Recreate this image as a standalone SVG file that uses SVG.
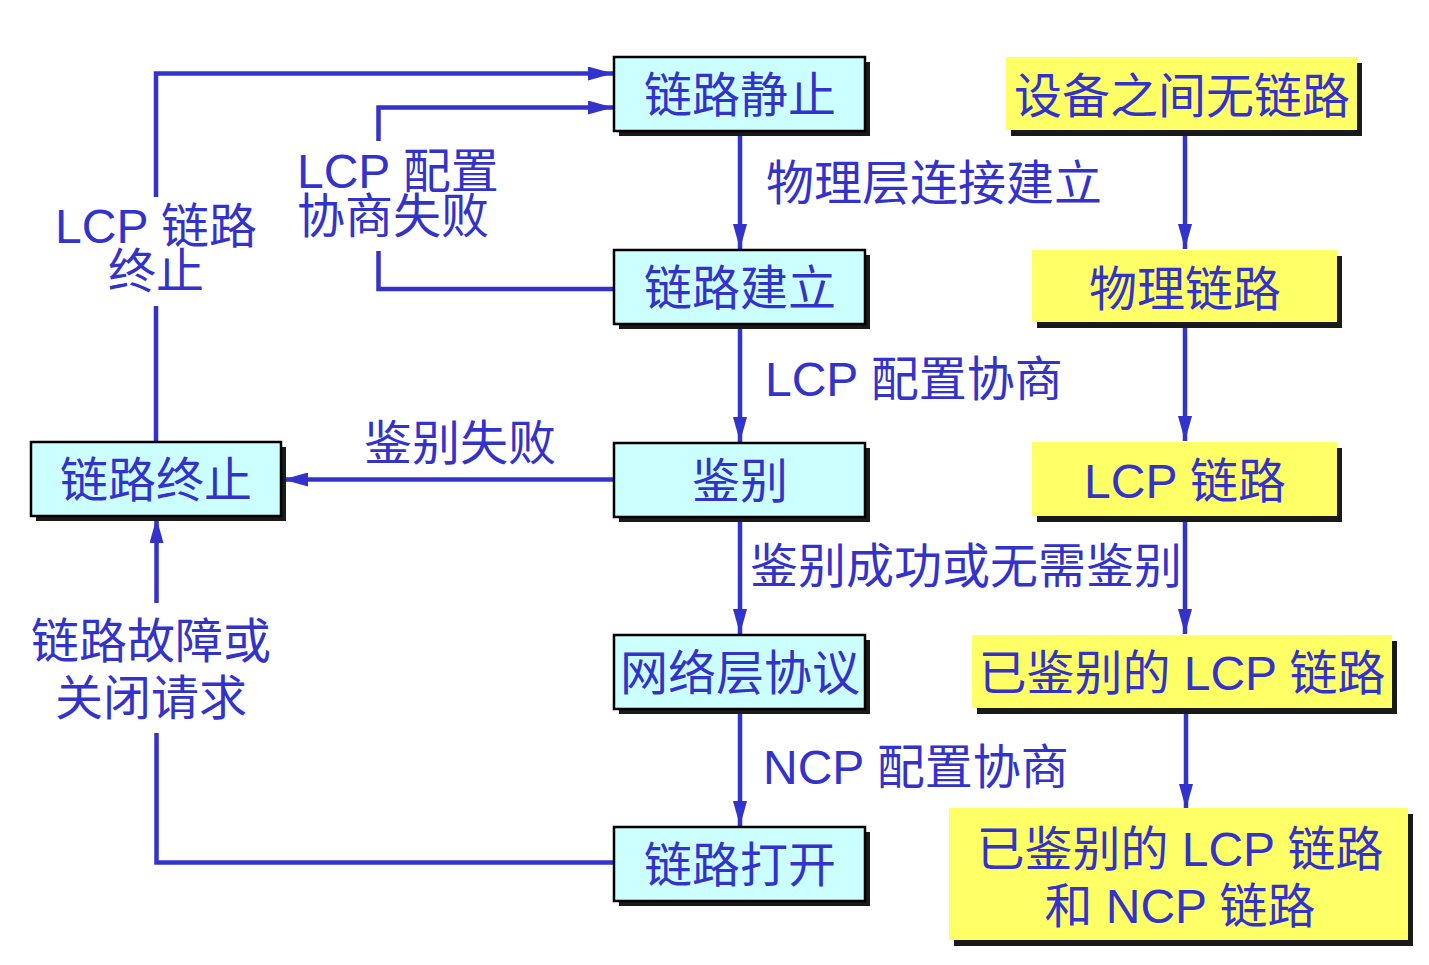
<svg xmlns="http://www.w3.org/2000/svg" width="1429" height="965" viewBox="0 0 1429 965">
<defs>
<marker id="ah" viewBox="0 0 25 14" refX="25" refY="7" markerWidth="25" markerHeight="14" markerUnits="userSpaceOnUse" orient="auto">
<path d="M0,0 L25,7 L0,14 Z" fill="#3333cc"/>
</marker>
</defs>
<style>
text{font-family:"Liberation Sans","Noto Sans CJK SC",sans-serif;font-size:48px;fill:#3333cc}
.c{text-anchor:middle}
.shadow{fill:#1a1a1a}
.cy{fill:#ccffff;stroke:#000;stroke-width:2.5}
.ye{fill:#ffff66}
.ln{fill:none;stroke:#3333cc;stroke-width:4.5}
.ar{marker-end:url(#ah)}
</style>
<rect width="1429" height="965" fill="#fff"/>
<g id="connectors">
<path class="ln ar" d="M740,131 V249"/>
<path class="ln ar" d="M740,324 V442"/>
<path class="ln ar" d="M740,517 V634"/>
<path class="ln ar" d="M740,709 V826"/>
<path class="ln ar" d="M1185,130 V249"/>
<path class="ln ar" d="M1185,322 V441"/>
<path class="ln ar" d="M1185,516 V634"/>
<path class="ln ar" d="M1186,708 V809"/>
<path class="ln ar" d="M614,479.5 H283"/>
<path class="ln" d="M156,442 V306"/>
<path class="ln ar" d="M156,197 V73.5 H613"/>
<path class="ln" d="M614,289 H378.5 V251"/>
<path class="ln ar" d="M378.5,141 V107.5 H613"/>
<path class="ln" d="M614,862.5 H156.5 V733"/>
<path class="ln ar" d="M156.5,603 V518"/>
</g>
<g id="n1"><rect class="shadow" x="619" y="62" width="251" height="74"/><rect class="cy" x="614" y="57" width="251" height="74"/><text class="c" x="740" y="112">链路静止</text></g>
<g id="n2"><rect class="shadow" x="619" y="255" width="251" height="74"/><rect class="cy" x="614" y="250" width="251" height="74"/><text class="c" x="740" y="305">链路建立</text></g>
<g id="n3"><rect class="shadow" x="619" y="448" width="251" height="74"/><rect class="cy" x="614" y="443" width="251" height="74"/><text class="c" x="740" y="498">鉴别</text></g>
<g id="n4"><rect class="shadow" x="619" y="640" width="251" height="74"/><rect class="cy" x="614" y="635" width="251" height="74"/><text class="c" x="740" y="690">网络层协议</text></g>
<g id="n5"><rect class="shadow" x="619" y="832" width="251" height="74"/><rect class="cy" x="614" y="827" width="251" height="74"/><text class="c" x="740" y="882">链路打开</text></g>
<g id="n6"><rect class="shadow" x="36" y="447" width="250" height="74"/><rect class="cy" x="31" y="442" width="250" height="74"/><text class="c" x="156" y="497">链路终止</text></g>
<g id="y1"><rect class="shadow" x="1011" y="63" width="351" height="73"/><rect class="ye" x="1006" y="57" width="351" height="73"/><text class="c" x="1182" y="113">设备之间无链路</text></g>
<g id="y2"><rect class="shadow" x="1037" y="256" width="305" height="72"/><rect class="ye" x="1032" y="250" width="305" height="72"/><text class="c" x="1185" y="306">物理链路</text></g>
<g id="y3"><rect class="shadow" x="1037" y="448" width="305" height="74"/><rect class="ye" x="1032" y="442" width="305" height="74"/><text class="c" x="1185" y="498">LCP 链路</text></g>
<g id="y4"><rect class="shadow" x="977" y="641" width="420" height="73"/><rect class="ye" x="972" y="635" width="420" height="73"/><text class="c" x="1182" y="690">已鉴别的 LCP 链路</text></g>
<g id="y5"><rect class="shadow" x="954" y="814" width="459" height="132"/><rect class="ye" x="949" y="808" width="459" height="132"/><text class="c" x="1180" y="866">已鉴别的 LCP 链路<tspan x="1180" dy="57">和 NCP 链路</tspan></text></g>
<g id="labels">
<text x="766" y="200">物理层连接建立</text>
<text x="765" y="396">LCP 配置协商</text>
<text x="750" y="583">鉴别成功或无需鉴别</text>
<text x="763" y="784">NCP 配置协商</text>
<text x="364" y="460">鉴别失败</text>
<text x="297" y="188">LCP 配置<tspan x="297" dy="45">协商失败</tspan></text>
<text class="c" x="156" y="243">LCP 链路<tspan x="156" dy="45">终止</tspan></text>
<text class="c" x="151" y="658">链路故障或<tspan x="151" dy="57">关闭请求</tspan></text>
</g>
</svg>
